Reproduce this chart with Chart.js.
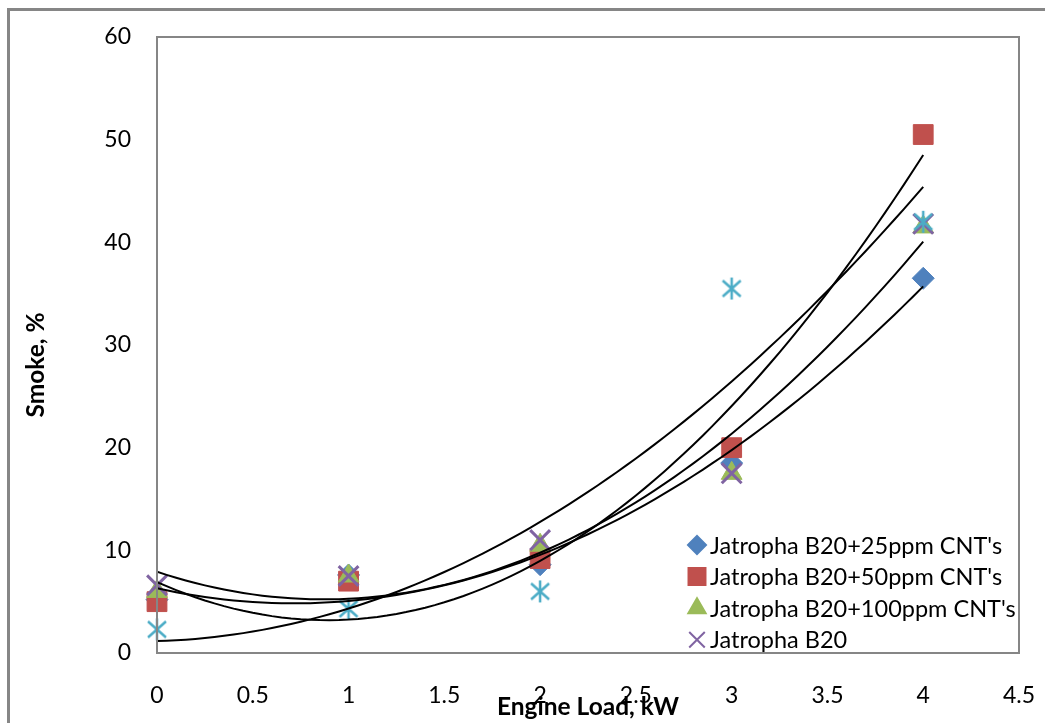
<!DOCTYPE html>
<html>
<head>
<meta charset="utf-8">
<script src="https://cdn.jsdelivr.net/npm/chart.js@4"></script>
<style>
  html, body { margin: 0; padding: 0; background: #fff; }
  #wrap { width: 1045px; height: 723px; position: relative; }
</style>
</head>
<body>
<div id="wrap"><canvas id="chart" width="1045" height="723"></canvas></div>
<script>
// engine load (kW) and smoke (%)
const loads = [0, 1, 2, 3, 4];
const smoke25 = [5.2, 7.6, 8.6, 18.5, 36.5];
const smoke50 = [5.0, 7.0, 9.2, 20.0, 50.5];
const smoke100 = [6.0, 7.5, 10.5, 17.5, 41.5];
const smokeB20 = [6.6, 7.5, 11.0, 17.5, 41.8];
const smokeDiesel = [2.3, 4.3, 6.0, 35.5, 42.0];

const xTicks = [0, 0.5, 1, 1.5, 2, 2.5, 3, 3.5, 4, 4.5];
const yTicks = [0, 10, 20, 30, 40, 50, 60];

const FONT = 'Lato, "Liberation Sans", sans-serif';
const GREY = '#868686';

// asterisk marker for the un-labelled series
function asterisk(color) {
    const c = document.createElement('canvas');
    c.width = 24; c.height = 24;
    const g = c.getContext('2d');
    g.strokeStyle = color;
    g.lineWidth = 2.5;
    g.beginPath();
    g.moveTo(12, 1); g.lineTo(12, 23);
    g.moveTo(3, 4); g.lineTo(21, 20);
    g.moveTo(21, 4); g.lineTo(3, 20);
    g.stroke();
    return c;
}

// second order polynomial trendline (least squares), like Excel's
function quadFit(xs, ys) {
    let s = [0, 0, 0, 0, 0], t = [0, 0, 0];
    xs.forEach((x, i) => {
        for (let k = 0; k < 5; k++) s[k] += Math.pow(x, k);
        for (let k = 0; k < 3; k++) t[k] += ys[i] * Math.pow(x, k);
    });
    const m = [[s[0], s[1], s[2], t[0]], [s[1], s[2], s[3], t[1]], [s[2], s[3], s[4], t[2]]];
    for (let i = 0; i < 3; i++) {
        for (let j = i + 1; j < 3; j++) {
            const f = m[j][i] / m[i][i];
            for (let k = i; k < 4; k++) m[j][k] -= f * m[i][k];
        }
    }
    const c = [0, 0, 0];
    for (let i = 2; i >= 0; i--) {
        let v = m[i][3];
        for (let k = i + 1; k < 3; k++) v -= m[i][k] * c[k];
        c[i] = v / m[i][i];
    }
    const pts = [];
    for (let i = 0; i <= 80; i++) {
        const x = loads[0] + (loads[loads.length - 1] - loads[0]) * i / 80;
        pts.push({ x: x, y: c[0] + c[1] * x + c[2] * x * x });
    }
    return pts;
}

function points(ys) {
    return loads.map((x, i) => ({ x: x, y: ys[i] }));
}

function trend(ys) {
    return {
        label: 'trend',
        data: quadFit(loads, ys),
        showLine: true,
        borderColor: '#000',
        borderWidth: 2,
        pointRadius: 0,
        order: 0
    };
}

const legendItems = [
    { text: "Jatropha B20+25ppm CNT's", style: 'rectRot', color: '#4F81BD', r: 9 },
    { text: "Jatropha B20+50ppm CNT's", style: 'rect', color: '#C0504D', r: 12 },
    { text: "Jatropha B20+100ppm CNT's", style: 'triangle', color: '#9BBB59', r: 10 },
    { text: 'Jatropha B20', style: 'crossRot', color: '#8064A2', r: 11 }
];

const decor = {
    id: 'decor',
    beforeDraw(chart) {
        const ctx = chart.ctx;
        ctx.save();
        ctx.strokeStyle = GREY;
        ctx.lineWidth = 3;
        ctx.strokeRect(8.5, 9.5, 1200, 1000);
        ctx.restore();
    },
    afterDraw(chart) {
        const ctx = chart.ctx;
        const a = chart.chartArea;
        ctx.save();
        ctx.strokeStyle = GREY;
        ctx.lineWidth = 2;
        ctx.strokeRect(a.left, a.top, a.right - a.left, a.bottom - a.top);

        // legend inside the plot
        ctx.font = '23.5px ' + FONT;
        ctx.textBaseline = 'middle';
        ctx.textAlign = 'left';
        legendItems.forEach((it, i) => {
            const y = 545 + i * 31.6;
            ctx.fillStyle = it.color;
            ctx.strokeStyle = it.color;
            Chart.helpers.drawPoint(ctx, { pointStyle: it.style, radius: it.r, rotation: 0, borderWidth: it.style === 'crossRot' ? 3 : 1 }, 697, y);
            ctx.fillStyle = '#000';
            ctx.fillText(it.text, 710, y + 1);
        });

        // axis titles
        ctx.font = 'bold 24.5px ' + FONT;
        ctx.textAlign = 'center';
        ctx.fillText('Engine Load, kW', 588, 707);
        ctx.translate(36, 365);
        ctx.rotate(-Math.PI / 2);
        ctx.fillText('Smoke, %', 0, 0);
        ctx.restore();
    }
};

new Chart(document.getElementById('chart').getContext('2d'), {
    type: 'scatter',
    data: {
        datasets: [
            trend(smoke25), trend(smoke50), trend(smokeB20), trend(smokeDiesel),
            { label: "Jatropha B20+25ppm CNT's", data: points(smoke25), pointStyle: 'rectRot', pointRadius: 11,
              backgroundColor: '#4F81BD', borderColor: '#4F81BD', borderWidth: 1, order: 5, clip: false },
            { label: "Jatropha B20+50ppm CNT's", data: points(smoke50), pointStyle: 'rect', pointRadius: 14,
              backgroundColor: '#C0504D', borderColor: '#C0504D', borderWidth: 1, order: 4, clip: false },
            { label: "Jatropha B20+100ppm CNT's", data: points(smoke100), pointStyle: 'triangle', pointRadius: 12,
              backgroundColor: '#9BBB59', borderColor: '#9BBB59', borderWidth: 1, order: 3, clip: false },
            { label: 'Jatropha B20', data: points(smokeB20), pointStyle: 'crossRot', pointRadius: 14,
              backgroundColor: '#8064A2', borderColor: '#8064A2', borderWidth: 3, order: 2, clip: false },
            { label: 'Diesel', data: points(smokeDiesel), pointStyle: asterisk('#4BACC6'), pointRadius: 12,
              order: 1, clip: false }
        ]
    },
    options: {
        responsive: false,
        devicePixelRatio: 1,
        animation: false,
        layout: { padding: { left: 0, top: 37, right: 26, bottom: 0 } },
        plugins: {
            legend: { display: false },
            tooltip: { enabled: false }
        },
        scales: {
            x: {
                type: 'linear',
                min: 0, max: 4.5,
                afterBuildTicks: s => { s.ticks = xTicks.map(v => ({ value: v })); },
                afterFit: s => { s.height = 70; s.paddingLeft = 0; s.paddingRight = 0; },
                grid: { display: false, drawTicks: false },
                border: { display: true, color: GREY, width: 2 },
                ticks: { color: '#000', font: { family: FONT, size: 23 }, padding: 29, maxRotation: 0,
                         callback: v => String(v) }
            },
            y: {
                min: 0, max: 60,
                afterBuildTicks: s => { s.ticks = yTicks.map(v => ({ value: v })); },
                afterFit: s => { s.width = 157; s.paddingTop = 0; s.paddingBottom = 0; },
                grid: { display: false, drawTicks: false },
                border: { display: true, color: GREY, width: 2 },
                ticks: { color: '#000', font: { family: FONT, size: 23 }, padding: 26,
                         callback: v => String(v) }
            }
        }
    },
    plugins: [decor]
});
</script>
</body>
</html>
